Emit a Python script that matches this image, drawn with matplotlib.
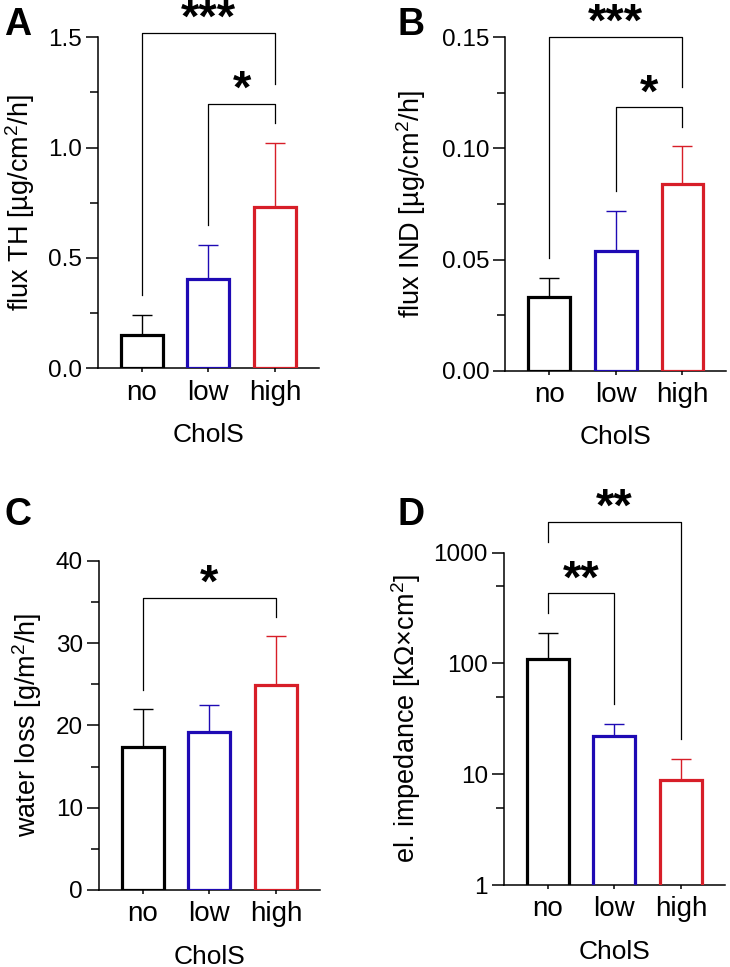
import matplotlib
matplotlib.use("Agg")
import matplotlib.pyplot as plt
import numpy as np
from matplotlib.ticker import MultipleLocator, FixedLocator, NullFormatter

plt.rcParams['font.family'] = ['Liberation Sans', 'DejaVu Sans']
plt.rcParams['mathtext.fontset'] = 'custom'
plt.rcParams['mathtext.rm'] = 'Liberation Sans'
plt.rcParams['mathtext.it'] = 'Liberation Sans:italic'
plt.rcParams['mathtext.bf'] = 'Liberation Sans:bold'

# ---------------- data ----------------
groups = ["no", "low", "high"]
xlabel = "CholS"
colors = ["#000000", "#1E0AB4", "#D71E28"]

flux_th_mean = [0.15, 0.405, 0.73]
flux_th_sd = [0.09, 0.155, 0.29]

flux_ind_mean = [0.033, 0.054, 0.084]
flux_ind_sd = [0.0085, 0.018, 0.017]

water_mean = [17.4, 19.2, 24.9]
water_sd = [4.6, 3.3, 5.9]

imp_mean = [110, 22, 8.8]
imp_sd = [79, 6.7, 4.8]

# brackets: (i, j, y_bar, y_left_end, y_right_end, label)
brackets_a = [(0, 2, 1.52, 0.33, 1.29, "***"), (1, 2, 1.20, 0.65, 1.113, "*")]
brackets_b = [(0, 2, 0.1503, 0.0505, 0.1275, "***"), (1, 2, 0.1186, 0.0808, 0.1098, "*")]
brackets_c = [(0, 2, 35.5, 24.3, 33.2, "*")]
brackets_d = [(0, 2, 1900, 1250, 20.6, "**"), (0, 1, 431, 286, 43.5, "**")]

# ---------------- figure ----------------
W, H = 730, 967
fig = plt.figure(figsize=(W / 100, H / 100), dpi=100)

def px_axes(cx0, top, bottom, spacing=66.6):
    left = cx0 - 0.66 * spacing
    width = 3.32 * spacing
    return fig.add_axes([left / W, 1 - bottom / H, width / W, (bottom - top) / H])

def style(ax, ylab, ylab_dx):
    for s in ['top', 'right']:
        ax.spines[s].set_visible(False)
    for s in ['left', 'bottom']:
        ax.spines[s].set_linewidth(1.1)
    ax.set_xlim(-0.66, 2.66)
    ax.set_xticks(range(len(groups)))
    ax.set_xticklabels(groups)
    ax.tick_params(axis='x', length=3.2, width=1.1, pad=5, labelsize=20)
    ax.tick_params(axis='y', which='major', length=9, width=1.1, pad=2.4, labelsize=17.5)
    ax.tick_params(axis='y', which='minor', length=5.5, width=1.1)
    ax.set_ylabel(ylab, fontsize=19.5)
    ax.yaxis.set_label_coords(ylab_dx / 221.0, 0.5)
    ax.set_xlabel(xlabel, fontsize=19, labelpad=12.5)

def bars(ax, means, sds):
    x = np.arange(len(groups))
    ax.bar(x, means, width=0.63, facecolor='none', edgecolor=colors, linewidth=2.3, zorder=3)
    for i in range(len(groups)):
        ax.errorbar(x[i], means[i], yerr=[[0], [sds[i]]], fmt='none', ecolor=colors[i],
                    elinewidth=1.0, capsize=7.5, capthick=1.0, zorder=2)

def draw_brackets(ax, brs):
    for (i, j, y, yl, yr, lab) in brs:
        ax.plot([i, i, j, j], [yl, y, y, yr], color='black', lw=0.9, clip_on=False, zorder=4)
        ax.annotate(lab, xy=((i + j) / 2, y), xytext=(0, 0.5), textcoords='offset points',
                    ha='center', va='baseline', fontsize=34, fontweight='bold',
                    annotation_clip=False)

# Panel A
axA = px_axes(141.7, 37.3, 368.3)
bars(axA, flux_th_mean, flux_th_sd)
axA.set_ylim(0, 1.5)
axA.yaxis.set_major_locator(MultipleLocator(0.5))
axA.yaxis.set_minor_locator(MultipleLocator(0.25))
axA.yaxis.set_major_formatter(plt.FormatStrFormatter('%.1f'))
style(axA, r"flux TH [µg/cm$^2$/h]", -61)
draw_brackets(axA, brackets_a)

# Panel B
axB = px_axes(549.3, 37.3, 370.7)
bars(axB, flux_ind_mean, flux_ind_sd)
axB.set_ylim(0, 0.15)
axB.yaxis.set_major_locator(MultipleLocator(0.05))
axB.yaxis.set_minor_locator(MultipleLocator(0.025))
axB.yaxis.set_major_formatter(plt.FormatStrFormatter('%.2f'))
style(axB, r"flux IND [µg/cm$^2$/h]", -77)
draw_brackets(axB, brackets_b)

# Panel C
axC = px_axes(142.7, 560.7, 890)
bars(axC, water_mean, water_sd)
axC.set_ylim(0, 40)
axC.yaxis.set_major_locator(MultipleLocator(10))
axC.yaxis.set_minor_locator(MultipleLocator(5))
style(axC, r"water loss [g/m$^2$/h]", -55)
draw_brackets(axC, brackets_c)

# Panel D
axD = px_axes(547.7, 552.7, 885)
axD.set_yscale('log')
bars(axD, imp_mean, imp_sd)
axD.set_ylim(1, 1000)
axD.yaxis.set_major_locator(FixedLocator([1, 10, 100, 1000]))
axD.yaxis.set_major_formatter(plt.FuncFormatter(lambda v, p: f"{int(round(v))}"))
axD.yaxis.set_minor_locator(FixedLocator([5, 50, 500]))
axD.yaxis.set_minor_formatter(NullFormatter())
style(axD, r"el. impedance [kΩ×cm$^2$]", -81)
draw_brackets(axD, brackets_d)

# panel letters
for lab, x, y in [("A", 4, 35), ("B", 397, 35), ("C", 5, 525), ("D", 397, 525)]:
    fig.text(x / W, 1 - y / H, lab, fontsize=27, fontweight='bold', ha='left', va='baseline')

fig.savefig("out.png", dpi=100)
